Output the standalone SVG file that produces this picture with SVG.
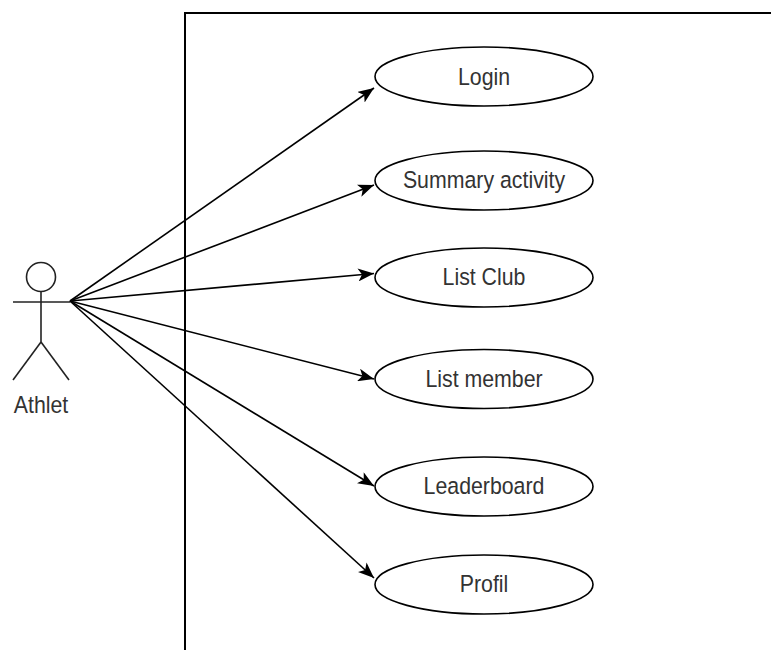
<svg xmlns="http://www.w3.org/2000/svg" width="771" height="650" viewBox="0 0 771 650">
<style>
.uc{fill:#ffffff;stroke:#000000;stroke-width:1.6}
.lbl{font-family:"Liberation Sans",Arial,sans-serif;font-size:24.5px;fill:#333333;text-anchor:middle}
.conn{stroke:#000000;stroke-width:1.6;fill:none}
.actor{stroke:#222222;stroke-width:1.6;fill:#ffffff}
</style>
<defs>
<marker id="arr" viewBox="0 0 16 13" refX="16" refY="6.5" markerWidth="16" markerHeight="13" markerUnits="userSpaceOnUse" orient="auto">
<path d="M0,0 L16,6.5 L0,13 L4,6.5 z" fill="#000000"/>
</marker>
</defs>
<rect width="771" height="650" fill="#ffffff"/>
<g id="system-boundary">
<path d="M185,650 L185,13 L771,13" fill="none" stroke="#000000" stroke-width="2"/>
</g>
<g id="actor-athlet">
<circle class="actor" cx="41" cy="277" r="14.5"/>
<line class="actor" x1="41" y1="291.5" x2="41" y2="342"/>
<line class="actor" x1="13" y1="302" x2="70" y2="302"/>
<line class="actor" x1="41" y1="342" x2="13" y2="380"/>
<line class="actor" x1="41" y1="342" x2="69" y2="380"/>
<text class="lbl" transform="translate(41,413) scale(0.87,1)">Athlet</text>
</g>
<g id="connectors">
<line class="conn" x1="70" y1="301" x2="374" y2="88" marker-end="url(#arr)"/>
<line class="conn" x1="70" y1="301" x2="374" y2="185" marker-end="url(#arr)"/>
<line class="conn" x1="70" y1="301" x2="374" y2="273.5" marker-end="url(#arr)"/>
<line class="conn" x1="70" y1="301" x2="374" y2="379" marker-end="url(#arr)"/>
<line class="conn" x1="70" y1="301" x2="374" y2="486" marker-end="url(#arr)"/>
<line class="conn" x1="70" y1="301" x2="374" y2="578" marker-end="url(#arr)"/>
</g>
<g id="uc-login">
<ellipse class="uc" cx="484" cy="76.5" rx="109" ry="29.5"/>
<text class="lbl" transform="translate(484,84.5) scale(0.87,1)">Login</text>
</g>
<g id="uc-summary">
<ellipse class="uc" cx="484" cy="180.5" rx="109" ry="29.5"/>
<text class="lbl" transform="translate(484,187.5) scale(0.87,1)">Summary activity</text>
</g>
<g id="uc-listclub">
<ellipse class="uc" cx="484" cy="277.5" rx="109" ry="29.5"/>
<text class="lbl" transform="translate(484,285) scale(0.87,1)">List Club</text>
</g>
<g id="uc-listmember">
<ellipse class="uc" cx="484" cy="379" rx="109" ry="29.5"/>
<text class="lbl" transform="translate(484,387) scale(0.87,1)">List member</text>
</g>
<g id="uc-leaderboard">
<ellipse class="uc" cx="484" cy="486.5" rx="109" ry="29.5"/>
<text class="lbl" transform="translate(484,494) scale(0.87,1)">Leaderboard</text>
</g>
<g id="uc-profil">
<ellipse class="uc" cx="484" cy="584.5" rx="109" ry="29.5"/>
<text class="lbl" transform="translate(484,592) scale(0.87,1)">Profil</text>
</g>
</svg>
